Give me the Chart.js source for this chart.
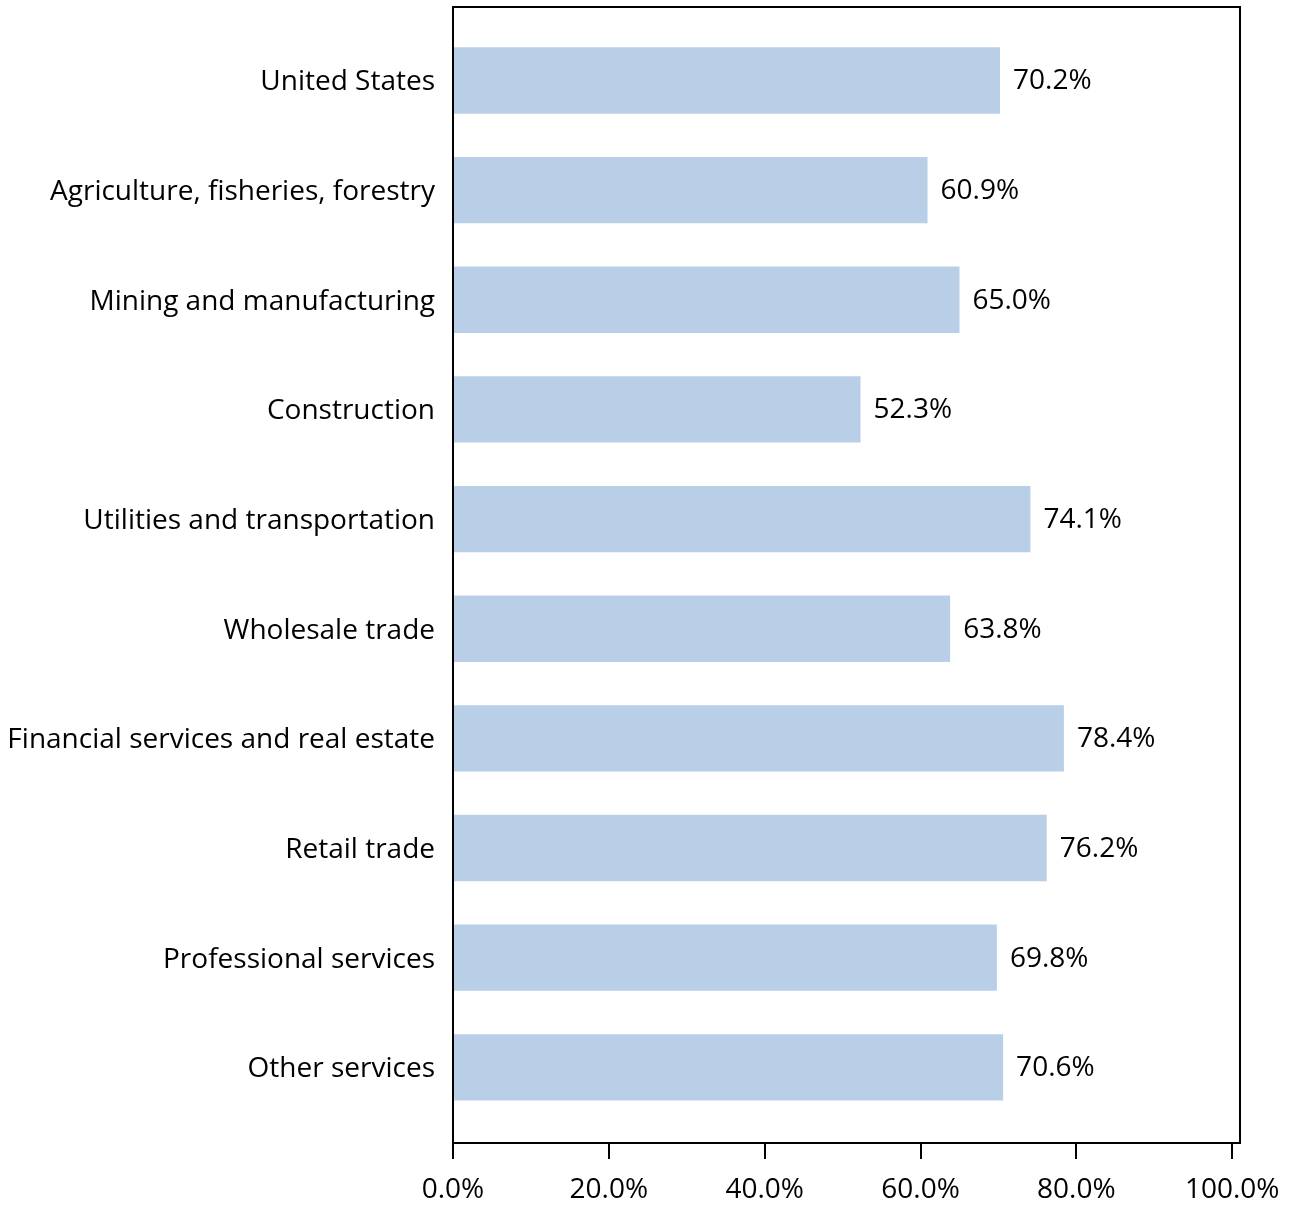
<!DOCTYPE html>
<html>
<head>
<meta charset="utf-8">
<script src="https://cdn.jsdelivr.net/npm/chart.js@4"></script>
<style>
  html, body { margin: 0; padding: 0; background: #fff; }
  #wrap { width: 1299px; height: 1205px; }
</style>
</head>
<body>
<div id="wrap"><canvas id="c" width="1299" height="1205"></canvas></div>
<script>
const categories = [
  "United States",
  "Agriculture, fisheries, forestry",
  "Mining and manufacturing",
  "Construction",
  "Utilities and transportation",
  "Wholesale trade",
  "Financial services and real estate",
  "Retail trade",
  "Professional services",
  "Other services"
];
const shareValues = [70.2, 60.9, 65.0, 52.3, 74.1, 63.8, 78.4, 76.2, 69.8, 70.6];
const xTickValues = [0, 20, 40, 60, 80, 100];

const FONT = "'Open Sans', 'Noto Sans', sans-serif";
const FONT_SIZE = 28;
const INK = "#000000";

const boxPlugin = {
  id: 'box',
  afterDraw(chart) {
    const { ctx, chartArea: a } = chart;
    ctx.save();
    ctx.strokeStyle = INK;
    ctx.lineWidth = 2;
    ctx.strokeRect(a.left, a.top, a.right - a.left, a.bottom - a.top);
    ctx.restore();
  }
};

const valueLabelPlugin = {
  id: 'valueLabels',
  afterDatasetsDraw(chart) {
    const { ctx } = chart;
    const meta = chart.getDatasetMeta(0);
    ctx.save();
    ctx.font = FONT_SIZE + "px " + FONT;
    ctx.fillStyle = INK;
    ctx.textAlign = 'left';
    ctx.textBaseline = 'middle';
    meta.data.forEach((bar, i) => {
      ctx.fillText(shareValues[i].toFixed(1) + '%', bar.x + 13, bar.y + 1);
    });
    ctx.restore();
  }
};

new Chart(document.getElementById('c'), {
  type: 'bar',
  data: {
    datasets: [{
      data: shareValues.map((v, i) => ({ x: v, y: i })),
      backgroundColor: '#B9CFE7',
      borderWidth: 0,
      categoryPercentage: 1,
      barPercentage: 0.605
    }]
  },
  options: {
    indexAxis: 'y',
    responsive: false,
    animation: false,
    devicePixelRatio: 1,
    layout: { padding: { top: 7, right: 59, bottom: 0, left: 0 } },
    plugins: { legend: { display: false }, tooltip: { enabled: false } },
    scales: {
      x: {
        type: 'linear',
        position: 'bottom',
        min: 0,
        max: 101,
        offset: false,
        afterBuildTicks(scale) { scale.ticks = xTickValues.map(v => ({ value: v })); },
        afterFit(scale) { scale.height = 62; scale.paddingLeft = 0; scale.paddingRight = 0; },
        ticks: {
          color: INK,
          font: { size: FONT_SIZE, family: FONT },
          padding: 14,
          maxRotation: 0,
          autoSkip: false,
          callback: v => Number(v).toFixed(1) + '%'
        },
        grid: { drawOnChartArea: false, drawTicks: true, tickLength: 16, color: INK, lineWidth: 2, offset: false },
        border: { display: true, color: INK, width: 2 }
      },
      y: {
        type: 'linear',
        reverse: true,
        min: -0.67,
        max: 9.69,
        offset: false,
        afterBuildTicks(scale) { scale.ticks = categories.map((_, i) => ({ value: i })); },
        afterFit(scale) { scale.width = 453; scale.paddingTop = 0; scale.paddingBottom = 0; },
        ticks: {
          color: INK,
          font: { size: FONT_SIZE, family: FONT },
          padding: 18,
          labelOffset: 2,
          autoSkip: false,
          callback: v => categories[v]
        },
        grid: { display: false, drawTicks: false, offset: false },
        border: { display: true, color: INK, width: 2 }
      }
    }
  },
  plugins: [boxPlugin, valueLabelPlugin]
});
</script>
</body>
</html>
